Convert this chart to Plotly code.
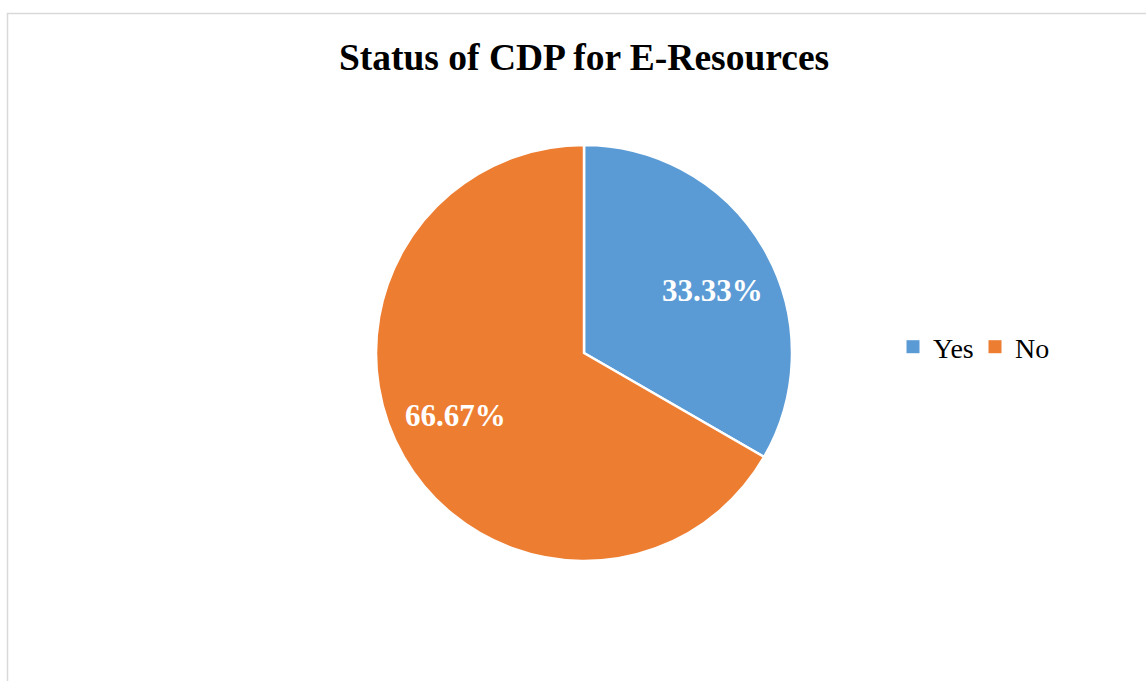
import math
import plotly.graph_objects as go

labels = ["Yes", "No"]
values = [33.33, 66.67]
colors = ["#5B9BD5", "#ED7D31"]

W, H = 1146, 681
cx, cy, r = 584, 353, 208

fig = go.Figure()
fig.add_trace(go.Pie(
    labels=labels,
    values=values,
    sort=False,
    direction="clockwise",
    rotation=0,
    marker=dict(colors=colors, line=dict(color="white", width=2.5)),
    textinfo="none",
    showlegend=False,
    domain=dict(x=[(cx - r) / W, (cx + r) / W], y=[1 - (cy + r) / H, 1 - (cy - r) / H]),
    hoverinfo="label+percent",
))

# legend entries with larger square swatches
for lab, col in zip(labels, colors):
    fig.add_trace(go.Scatter(
        x=[None], y=[None], mode="markers", name=lab,
        marker=dict(symbol="square", size=13, color=col),
        showlegend=True, hoverinfo="skip",
    ))

# data labels placed from slice angles
total = sum(values)
annotations = []
start = 0.0
for v in values:
    mid = start + v / total * 180.0 + 4.0
    ang = math.radians(mid)
    px = cx + 0.69 * r * math.sin(ang)
    py = cy - 0.69 * r * math.cos(ang)
    annotations.append(dict(
        x=px / W, y=1 - py / H, xref="paper", yref="paper",
        text=f"<b>{v:.2f}%</b>", showarrow=False,
        xanchor="center", yanchor="middle",
        font=dict(family="Liberation Serif", size=31, color="white"),
    ))
    start += v / total * 360.0

fig.update_layout(
    width=W, height=H,
    margin=dict(l=0, r=0, t=0, b=0),
    paper_bgcolor="white",
    plot_bgcolor="white",
    xaxis=dict(visible=False),
    yaxis=dict(visible=False),
    title=dict(
        text="<b>Status of CDP for E-Resources</b>",
        x=cx / W, xanchor="center",
        y=1 - 57 / H, yanchor="middle",
        font=dict(family="Liberation Serif", size=37.5, color="black"),
    ),
    legend=dict(
        orientation="h",
        x=893 / W, xanchor="left",
        y=1 - 347 / H, yanchor="middle",
        font=dict(family="Liberation Serif", size=28, color="black"),
        entrywidth=37, entrywidthmode="pixels",
        traceorder="normal",
    ),
    annotations=annotations,
    shapes=[dict(
        type="rect", xref="paper", yref="paper",
        x0=7.5 / W, x1=1.01, y0=-0.01, y1=1 - 13.5 / H,
        line=dict(color="#D9D9D9", width=1.5),
    )],
)

fig.write_html("out.html")
